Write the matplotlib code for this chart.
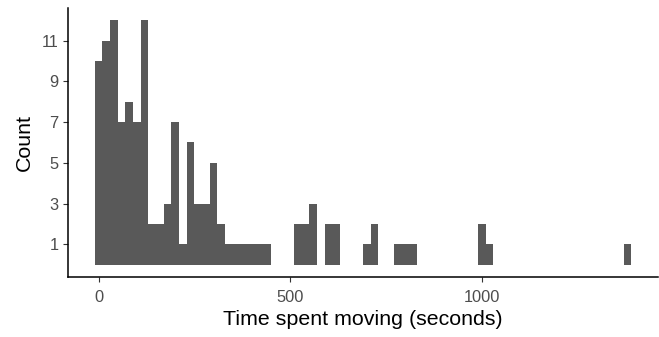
import numpy as np
import matplotlib.pyplot as plt

# histogram bins (binwidth 20, centred on multiples of 20) and their counts
bin_centers = [0, 20, 40, 60, 80, 100, 120, 140, 160, 180, 200, 220, 240, 260, 280, 300, 320,
               340, 360, 380, 400, 420, 440,
               520, 540, 560, 600, 620,
               700, 720,
               780, 800, 820,
               1000, 1020,
               1380]
counts = [10, 11, 12, 7, 8, 7, 12, 2, 2, 3, 7, 1, 6, 3, 3, 5, 2,
          1, 1, 1, 1, 1, 1,
          2, 2, 3, 2, 2,
          1, 2,
          1, 1, 1,
          2, 1,
          1]
binwidth = 20

x_ticks = [0, 500, 1000]
y_ticks = [1, 3, 5, 7, 9, 11]

plt.rcParams['font.family'] = ['Liberation Sans', 'DejaVu Sans']

fig = plt.figure(figsize=(6.59, 3.37), dpi=100)
ax = fig.add_axes([68 / 659, 60 / 337, 590 / 659, 269 / 337])

ax.bar(bin_centers, counts, width=binwidth, color='#595959', edgecolor='none')

xmin, xmax = -10, 1390
pad = (xmax - xmin) * 0.05
ax.set_xlim(xmin - pad, xmax + pad)
ax.set_ylim(-0.6, 12.6)

ax.set_xticks(x_ticks)
ax.set_yticks(y_ticks)
ax.tick_params(axis='both', length=3.6, width=0.8, color='#333333',
               labelsize=11.8, labelcolor='#4d4d4d')
ax.tick_params(axis='x', pad=6)
ax.tick_params(axis='y', pad=3)

for side in ['top', 'right']:
    ax.spines[side].set_visible(False)
for side in ['left', 'bottom']:
    ax.spines[side].set_linewidth(1.1)
    ax.spines[side].set_color('black')

ax.set_xlabel('Time spent moving (seconds)', fontsize=15.4, labelpad=3.5)
ax.set_ylabel('Count', fontsize=15.4, labelpad=6)

fig.savefig('out.png', dpi=100)
